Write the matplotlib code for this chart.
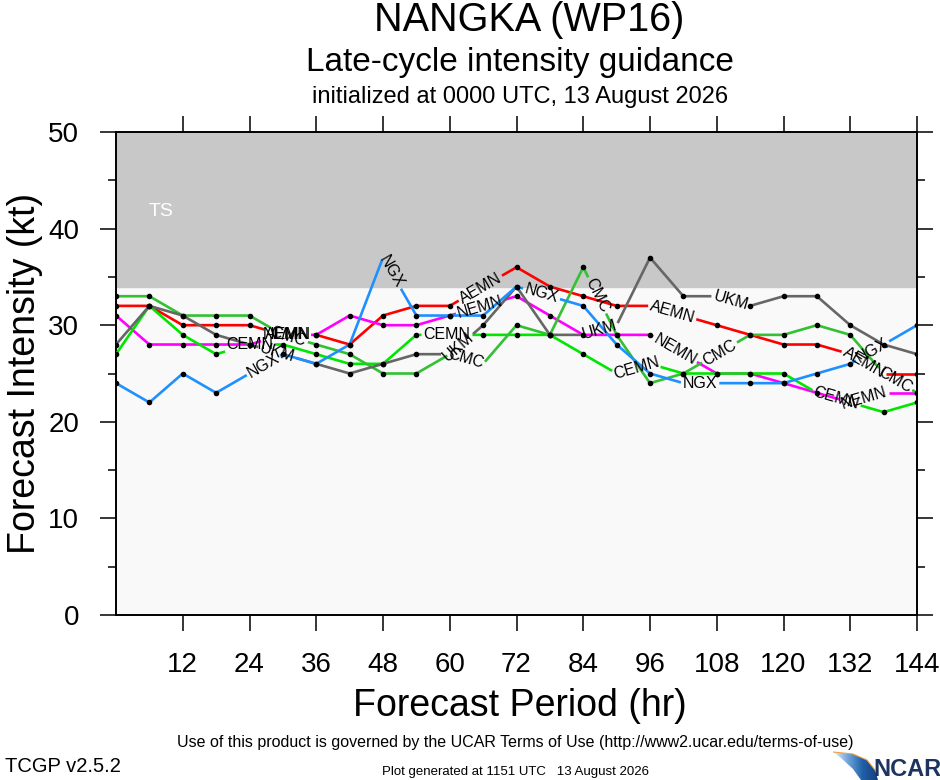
import numpy as np
import matplotlib
matplotlib.use("Agg")
import matplotlib.pyplot as plt
from matplotlib.patches import Polygon

plt.rcParams['font.family'] = ['Liberation Sans', 'DejaVu Sans']

# forecast hours and model intensities (kt)
hours = list(range(0, 145, 6))

aemn = [32, 32, 30, 30, 30, 29, 29, 28, 31, 32, 32, 34, 36, 34, 33, 32, 32, 31, 30, 29, 28, 28, 27, 25, 25]
nemn = [31, 28, 28, 28, 28, 29, 29, 31, 30, 30, 31, 32, 33, 31, 29, 29, 29, 27, 25, 25, 24, 23, 22, 23, 23]
ngx = [24, 22, 25, 23, 25, 27, 26, 28, 37, 31, 31, 31, 34, 33, 32, 28, 25, 24, 24, 24, 24, 25, 26, 28, 30]
cemn = [27, 32, 29, 27, 28, 28, 27, 26, 26, 29, 29, 29, 29, 29, 27, 25, 26, 25, 25, 25, 25, 23, 22, 21, 22]
cmc = [33, 33, 31, 31, 31, 29, 28, 27, 25, 25, 27, 26, 30, 29, 36, 29, 24, 25, 27, 29, 29, 30, 29, 25, 23]
ukm = [28, 32, 31, 29, 28, 27, 26, 25, 26, 27, 27, 30, 34, 29, 29, 30, 37, 33, 33, 32, 33, 33, 30, 28, 27]

# hours where the line labels sit
aemn_lab = [31, 65.5, 100, 134.5]
nemn_lab = [30.5, 65.5, 100.5, 134.5]
ngx_lab = [26.5, 49.5, 76.5, 105, 136]
cemn_lab = [24, 59.5, 93.5, 129.5]
cmc_lab = [31, 63, 86.5, 108.5, 140]
ukm_lab = [29, 61.5, 87, 110.5]

models = [
    ("AEMN", aemn, "#ff0000", aemn_lab),
    ("NEMN", nemn, "#ff00ff", nemn_lab),
    ("CEMN", cemn, "#00e600", cemn_lab),
    ("CMC", cmc, "#33c033", cmc_lab),
    ("UKM", ukm, "#666666", ukm_lab),
    ("NGX", ngx, "#1e90ff", ngx_lab),
]

fig = plt.figure(figsize=(9.4, 7.8), dpi=100)
ax = fig.add_axes([116 / 940, 1 - 615 / 780, 801 / 940, 483 / 780])
ax.set_xlim(0, 144)
ax.set_ylim(0, 50)
ax.set_facecolor("#f9f9f9")
ax.axhspan(34, 50, color="#c8c8c8", zorder=0)
ax.text(8.1, 41.8, "TS", color="white", fontsize=14, ha="center", va="center")

renderer = fig.canvas.get_renderer()
lab_size = 11.5


def draw_model(name, vals, color, lab_hours):
    x = np.array(hours, dtype=float)
    y = np.array(vals, dtype=float)
    pts = ax.transData.transform(np.column_stack([x, y]))
    s = np.concatenate([[0], np.cumsum(np.hypot(*np.diff(pts, axis=0).T))])

    t = ax.text(0, 0, name, fontsize=lab_size)
    half = t.get_window_extent(renderer).width / 2 + 2
    t.remove()

    gaps = []
    for h in lab_hours:
        sc = np.interp(h, x, s)
        i = min(np.searchsorted(x, h, side="right") - 1, len(x) - 2)
        dx, dy = pts[i + 1] - pts[i]
        ang = np.degrees(np.arctan2(dy, dx))
        cx = np.interp(sc, s, pts[:, 0])
        cy = np.interp(sc, s, pts[:, 1])
        xd, yd = ax.transData.inverted().transform((cx, cy))
        ax.text(xd, yd, name, fontsize=lab_size, rotation=ang,
                rotation_mode="anchor", ha="center", va="center", zorder=6)
        gaps.append((sc - half, sc + half))

    # visible stretches of the line between the labels
    gaps.sort()
    edges = [0.0]
    for a, b in gaps:
        edges += [a, b]
    edges.append(s[-1])
    for k in range(0, len(edges), 2):
        a, b = edges[k], edges[k + 1]
        if b <= a:
            continue
        ss = np.concatenate([[a], s[(s > a) & (s < b)], [b]])
        px = np.column_stack([np.interp(ss, s, pts[:, 0]), np.interp(ss, s, pts[:, 1])])
        d = ax.transData.inverted().transform(px)
        ax.plot(d[:, 0], d[:, 1], color=color, lw=1.9, solid_capstyle="butt", zorder=3)

    keep = [j for j in range(len(x)) if not any(a <= s[j] <= b for a, b in gaps)]
    ax.plot(x[keep], y[keep], "o", color="black", ms=3, zorder=4)


for name, vals, color, lab in models:
    draw_model(name, vals, color, lab)

# axes styling
for sp in ax.spines.values():
    sp.set_linewidth(1.4)
ax.set_xticks(range(12, 145, 12))
ax.set_yticks(range(0, 51, 10))
ax.set_yticks(range(5, 50, 10), minor=True)
ax.tick_params(axis="x", which="major", direction="out", length=11.5, width=1.1,
               top=True, bottom=True, labelsize=20, pad=15)
ax.tick_params(axis="y", which="major", direction="out", length=11.5, width=1.1,
               left=True, right=True, labelsize=20, pad=15)
ax.tick_params(axis="y", which="minor", direction="out", length=6, width=1.1,
               left=True, right=True)

fig.text(0.027, 1 - 373 / 780, "Forecast Intensity (kt)", rotation=90,
         fontsize=27, ha="center", va="center")
fig.text(0.553, 1 - 706 / 780, "Forecast Period (hr)", fontsize=27,
         ha="center", va="center")

# titles
fig.text(0.563, 1 - 20 / 780, "NANGKA (WP16)", fontsize=28.5, ha="center", va="center")
fig.text(0.553, 1 - 62 / 780, "Late-cycle intensity guidance", fontsize=24,
         ha="center", va="center")
fig.text(0.553, 1 - 97 / 780, "initialized at 0000 UTC, 13 August 2026", fontsize=17,
         ha="center", va="center")

# footer
narrow = ["Liberation Sans Narrow", "Liberation Sans"]
fig.text(515 / 940, 1 - 742 / 780,
         "Use of this product is governed by the UCAR Terms of Use (http://www2.ucar.edu/terms-of-use)",
         fontsize=11.5, family=narrow, ha="center", va="center")
fig.text(5 / 940, 1 - 766 / 780, "TCGP v2.5.2", fontsize=14.5, family=narrow,
         ha="left", va="center")
fig.text(516 / 940, 1 - 772 / 780, "Plot generated at 1151 UTC   13 August 2026",
         fontsize=9.5, family=narrow, ha="center", va="center")

# NCAR logo
lax = fig.add_axes([833 / 940, 0, 107 / 940, 30 / 780])
lax.set_xlim(0, 107)
lax.set_ylim(0, 30)
lax.axis("off")
swoosh = Polygon([(0, 28), (20, 26), (34, 20), (42, 10), (45, 0), (28, 0), (20, 11), (8, 22)],
                 closed=True, facecolor="none", edgecolor="none")
lax.add_patch(swoosh)
grad = np.linspace(0, 1, 64).reshape(1, -1)
im = lax.imshow(grad, extent=(0, 45, 0, 30), cmap=plt.matplotlib.colors.LinearSegmentedColormap.from_list(
    "ncar", ["#e8f0fa", "#6fa3d8", "#1f5fa8", "#173f7a"]), aspect="auto")
im.set_clip_path(swoosh)
lax.plot([0, 20, 34, 42], [28, 26, 20, 10], color="#f0a040", lw=0.8)
lax.text(40, 11, "NCAR", fontsize=17, fontweight="bold", family=narrow,
         color="#1d3461", ha="left", va="center")

fig.savefig("out.png", dpi=100)
